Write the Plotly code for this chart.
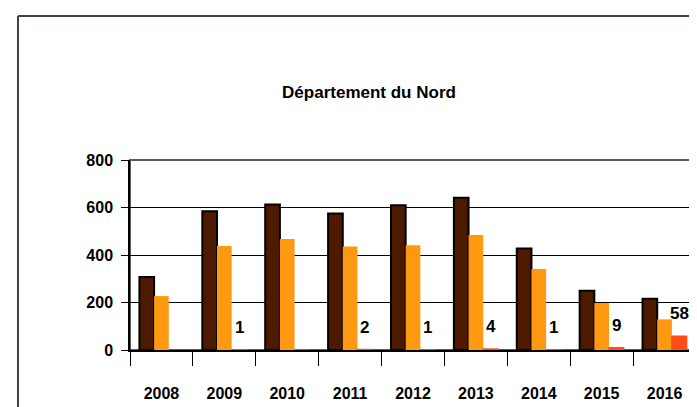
import plotly.graph_objects as go

# Données
annees = ['2008', '2009', '2010', '2011', '2012', '2013', '2014', '2015', '2016']
serie_1 = [307, 584, 613, 575, 610, 641, 427, 250, 216]
serie_2 = [227, 438, 467, 436, 441, 484, 341, 198, 129]
serie_3 = [None, 1, 0, 2, 1, 4, 1, 9, 58]
etiquettes_3 = ['', '1', '', '2', '1', '4', '1', '9', '58']

POLICE = 'Liberation Sans, Arial, sans-serif'
OFF = 8  # marge par défaut du <body>
W, H = 697 - OFF, 407 - OFF
L, R, T, B = 122, 1, 152, 57
BARGAP = 0.3


def px_x(px):
    """pixel (image de référence) -> coordonnée paper horizontale"""
    return (px - OFF - L) / (W - L - R)


def px_y(py):
    """pixel (image de référence) -> coordonnée paper verticale"""
    return (H - B - (py - OFF)) / (H - T - B)


fig = go.Figure()

fig.add_trace(go.Bar(
    x=annees, y=serie_1, name='Série 1',
    marker=dict(color='#4d1a00', line=dict(color='#000000', width=2)),
))
fig.add_trace(go.Bar(
    x=annees, y=serie_2, name='Série 2',
    marker=dict(color='#ff9912', line=dict(color='#ff9912', width=0)),
))
fig.add_trace(go.Bar(
    x=annees, y=serie_3, name='Série 3',
    marker=dict(color='#ff4d1a', line=dict(color='#ff4d1a', width=1.5)),
))

# Étiquettes de la 3e série
for i, (val, txt) in enumerate(zip(serie_3, etiquettes_3)):
    if not txt:
        continue
    fig.add_annotation(
        x=i + (1 - BARGAP) / 3, y=val, xref='x', yref='y',
        text=txt, showarrow=False, yanchor='bottom', yshift=11,
        font=dict(family=POLICE, size=17, color='#000000', weight='bold'),
    )

# Cadres
cadre = '#3b4252'
fig.add_shape(type='line', xref='paper', yref='paper',
              x0=px_x(18), x1=px_x(18), y0=px_y(16), y1=px_y(420),
              line=dict(color=cadre, width=2))
fig.add_shape(type='line', xref='paper', yref='paper',
              x0=px_x(18), x1=px_x(710), y0=px_y(16), y1=px_y(16),
              line=dict(color=cadre, width=2))
# Bordure de la zone de tracé
fig.add_shape(type='rect', xref='x domain', yref='y domain',
              x0=0, x1=1, y0=0, y1=1, layer='below',
              line=dict(color='#5a5a5a', width=2))

fig.update_layout(
    width=W, height=H,
    margin=dict(l=L, r=R, t=T, b=B, pad=0),
    paper_bgcolor='white', plot_bgcolor='white',
    barmode='group', bargap=BARGAP, bargroupgap=0,
    showlegend=False,
    title=dict(
        text='Département du Nord',
        x=(369 - OFF) / W, xref='container', xanchor='center',
        y=1 - (92 - OFF) / H, yref='container', yanchor='middle',
        font=dict(family=POLICE, size=17, color='#000000', weight='bold'),
    ),
)

fig.update_xaxes(
    type='category',
    showline=True, linecolor='#000000', linewidth=1.5,
    ticks='outside', tickson='boundaries', ticklen=14,
    tickcolor='#000000', tickwidth=1,
    ticklabelstandoff=28,
    tickfont=dict(family=POLICE, size=16, color='#000000', weight='bold'),
    showgrid=False,
)

fig.update_yaxes(
    range=[0, 800], tickvals=[0, 200, 400, 600, 800],
    showgrid=True, gridcolor='#000000', gridwidth=1,
    zeroline=False,
    showline=True, linecolor='#000000', linewidth=1.5,
    ticks='outside', ticklen=7, tickcolor='#000000', tickwidth=1,
    ticklabelstandoff=5,
    tickfont=dict(family=POLICE, size=16, color='#000000', weight='bold'),
)

fig.write_html('out.html')
